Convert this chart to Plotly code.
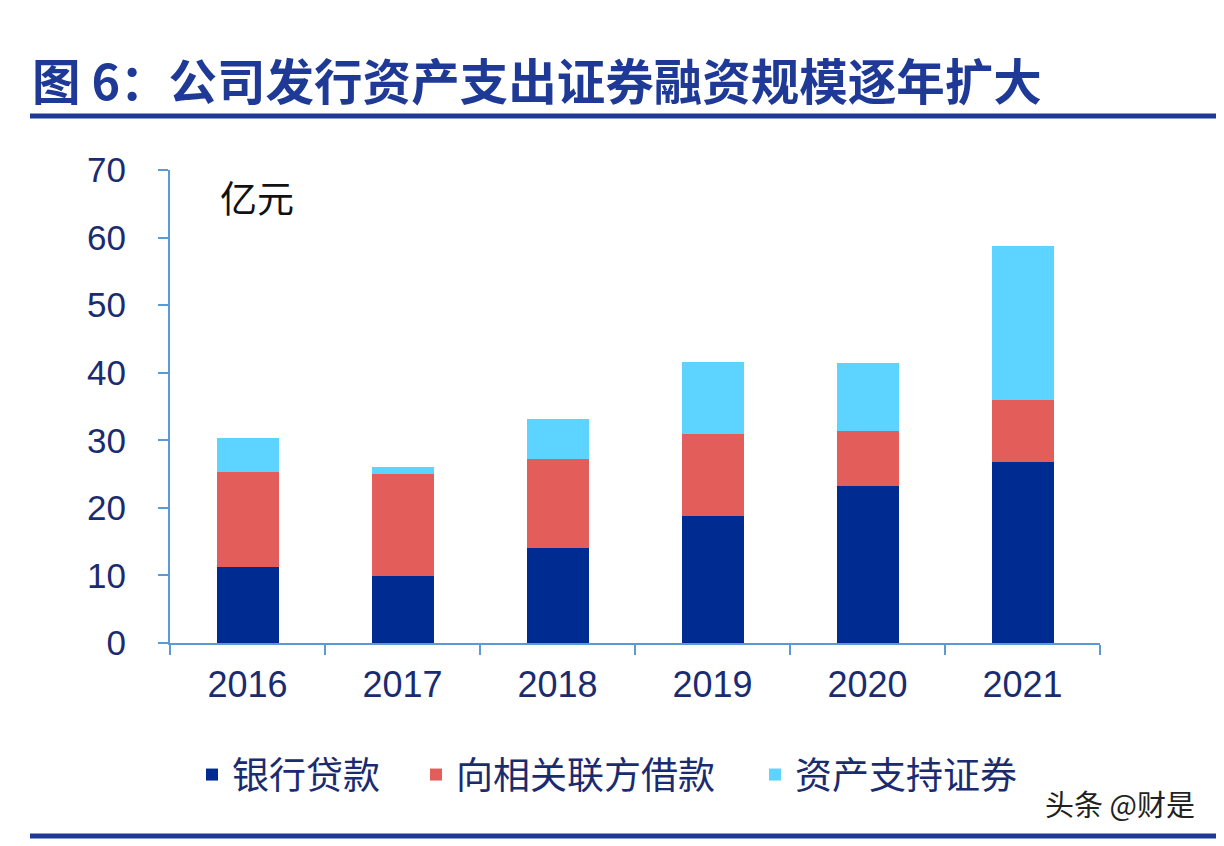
import plotly.graph_objects as go

years = ["2016", "2017", "2018", "2019", "2020", "2021"]
bank_loans = [11.3, 9.9, 14.1, 18.8, 23.3, 26.8]
related_loans = [14.05, 15.05, 13.2, 12.1, 8.1, 9.1]
abs_securities = [5.05, 1.15, 5.8, 10.7, 10.1, 22.9]
series_names = ["银行贷款", "向相关联方借款", "资产支持证券"]
y_ticks = [0, 10, 20, 30, 40, 50, 60, 70]

colors = ["#002C91", "#E35D5A", "#5DD3FF"]
NAVY_TXT = "#1B2B70"
# page body has an 8px margin; the figure fits inside the remaining area
W, H = 1216, 838
L, T = 162, 162
PW, PH = 930, 473
R, B = W - L - PW, H - T - PH


def px(xp):  # figure pixel -> paper x
    return (xp - L) / PW


def py(yp):  # figure pixel -> paper y
    return (T + PH - yp) / PH


fig = go.Figure()
legend_ids = ["legend", "legend2", "legend3"]
for name, vals, c, lg in zip(series_names, [bank_loans, related_loans, abs_securities], colors, legend_ids):
    fig.add_trace(go.Bar(x=years, y=vals, name=name, legend=lg,
                         marker=dict(color=c, line=dict(width=0))))

legend_font = dict(size=37, family="Noto Sans CJK SC", color=NAVY_TXT)
legend_common = dict(orientation="h", xanchor="left", yanchor="middle", y=py(767),
                     font=legend_font, itemwidth=30, bgcolor="rgba(0,0,0,0)")

fig.update_layout(
    width=W, height=H,
    barmode="stack", bargap=0.6,
    paper_bgcolor="white", plot_bgcolor="white",
    margin=dict(l=L, r=R, t=T, b=B, autoexpand=False),
    font=dict(family="Liberation Sans, Noto Sans CJK SC", color=NAVY_TXT),
    showlegend=True,
    legend=dict(x=px(184), **legend_common),
    legend2=dict(x=px(408), **legend_common),
    legend3=dict(x=px(747), **legend_common),
)
fig.update_xaxes(
    type="category", showline=True, linecolor="#5B9BD5", linewidth=2,
    ticks="outside", tickson="boundaries", ticklen=10, tickcolor="#5B9BD5", tickwidth=2,
    tickfont=dict(size=36, color=NAVY_TXT), ticklabelstandoff=9,
    showgrid=False, zeroline=False,
)
fig.update_yaxes(
    range=[0, 70], tickvals=y_ticks, showline=True, linecolor="#5B9BD5", linewidth=2,
    ticks="outside", ticklen=10, tickcolor="#5B9BD5", tickwidth=2,
    tickfont=dict(size=35, color=NAVY_TXT), ticklabelstandoff=25,
    showgrid=False, zeroline=False,
)

fig.add_annotation(text="<b>图 6：公司发行资产支出证券融资规模逐年扩大</b>", xref="paper", yref="paper",
                   x=px(22), y=py(71), xanchor="left", yanchor="middle",
                   showarrow=False, font=dict(size=48.5, color="#1E3A96", family="Noto Sans CJK SC"))
fig.add_annotation(text="亿元", xref="paper", yref="paper",
                   x=px(210), y=py(189), xanchor="left", yanchor="middle",
                   showarrow=False, font=dict(size=37, color="#111111", family="Noto Sans CJK SC"))
fig.add_annotation(text="头条 @财是", xref="paper", yref="paper",
                   x=px(1189), y=py(795), xanchor="right", yanchor="middle",
                   showarrow=False, font=dict(size=29, color="#222222", family="Noto Sans CJK SC"))

# decorative rules
fig.add_shape(type="line", xref="paper", yref="paper",
              x0=px(22), x1=px(W), y0=py(108), y1=py(108),
              line=dict(color="#1E3A96", width=5))
fig.add_shape(type="line", xref="paper", yref="paper",
              x0=px(22), x1=px(W), y0=py(828), y1=py(828),
              line=dict(color="#1E3A96", width=5))

fig.write_html("out.html")
